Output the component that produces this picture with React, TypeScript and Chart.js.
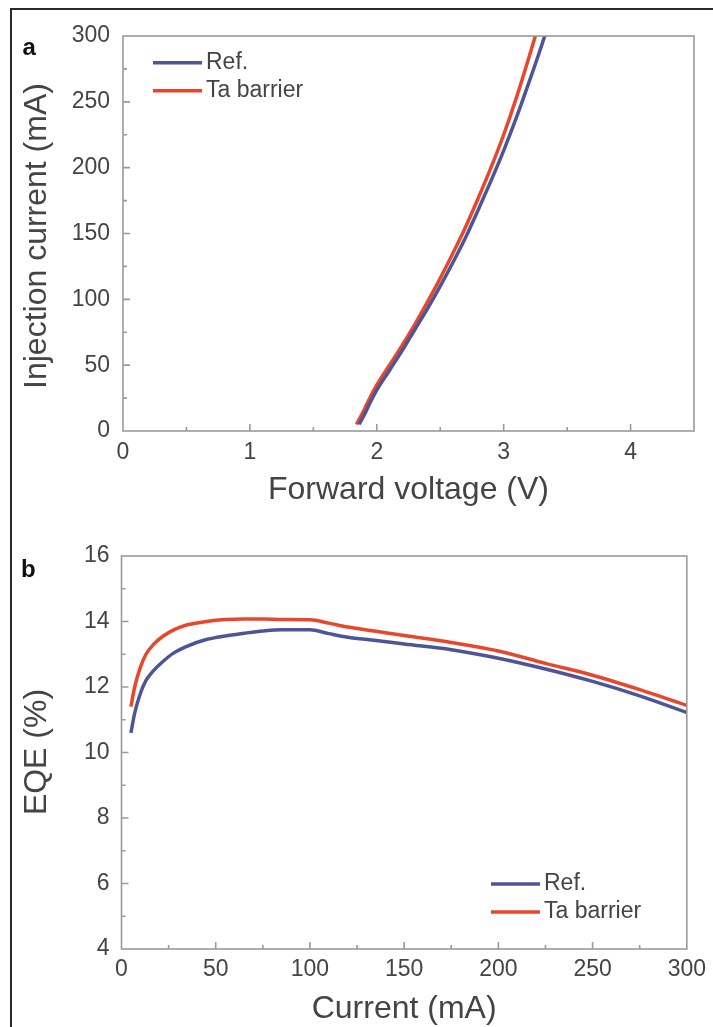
import React, { useEffect, useRef } from "react";
import { Chart, registerables } from "chart.js";

Chart.register(...registerables);

// ---------- Data ----------
const seriesLabels = ["Ref.", "Ta barrier"];
const seriesColors = ["#4d5596", "#e8472c"];

// Panel a: I-V
const ivVoltageRef = [1.86, 1.9, 1.95, 2.0, 2.1, 2.2, 2.3, 2.4, 2.5, 2.6, 2.7, 2.8, 2.9, 3.0, 3.1, 3.2, 3.3, 3.33];
const ivCurrentRef = [5, 12, 22, 31, 46, 61, 77, 93, 110, 128, 147, 168, 190, 213, 238, 265, 293, 302];
const ivVoltageTa = [1.84, 1.9, 1.95, 2.0, 2.1, 2.2, 2.3, 2.4, 2.5, 2.6, 2.7, 2.8, 2.9, 3.0, 3.1, 3.2, 3.25];
const ivCurrentTa = [5, 16, 26, 35, 50, 65, 81, 98, 116, 135, 155, 177, 200, 225, 253, 284, 300];

// Panel b: EQE vs current
const eqeCurrentRef = [5, 7, 10, 13, 17, 22, 28, 35, 45, 55, 65, 75, 85, 100, 110, 120, 135, 150, 175, 200, 225, 250, 275, 300];
const eqeRef = [10.6, 11.2, 11.8, 12.2, 12.5, 12.78, 13.05, 13.25, 13.45, 13.56, 13.64, 13.71, 13.75, 13.75, 13.63, 13.52, 13.42, 13.31, 13.14, 12.88, 12.55, 12.17, 11.73, 11.22];
const eqeCurrentTa = [5, 7, 10, 13, 17, 22, 28, 35, 45, 55, 65, 75, 85, 100, 110, 120, 135, 150, 175, 200, 225, 250, 275, 300];
const eqeTa = [11.4, 12.0, 12.6, 13.0, 13.3, 13.55, 13.75, 13.9, 14.0, 14.06, 14.08, 14.08, 14.06, 14.05, 13.95, 13.83, 13.7, 13.57, 13.36, 13.1, 12.72, 12.36, 11.92, 11.44];

// Axes
const ivXRange = [0, 4.5];
const ivYRange = [0, 300];
const eqeXRange = [0, 300];
const eqeYRange = [4, 16];

// ---------- Styles ----------
const FONT = "'Liberation Sans', Arial, Helvetica, sans-serif";
const AXIS_COLOR = "#9a9a9a";
const TEXT_COLOR = "#444444";

type PanelCfg = {
  letter: string;
  letterX: number;
  letterY: number;
  xTitle: string;
  yTitle: string;
  xTitleY: number;
  yTitleX: number;
  yTitleY: number;
  xMajor: number;
  xMinor: number;
  yMajor: number;
  yMinor: number;
  legendX1: number;
  legendX2: number;
  legendTextX: number;
  legendY: number[];
};

function makePlugin(cfg: PanelCfg) {
  return {
    id: "panelDecor",
    afterDatasetsDraw(chart: any) {
      const ctx = chart.ctx as CanvasRenderingContext2D;
      const a = chart.chartArea;
      const xs = chart.scales.x;
      const ys = chart.scales.y;
      ctx.save();
      // frame
      ctx.strokeStyle = AXIS_COLOR;
      ctx.lineWidth = 1.6;
      ctx.strokeRect(a.left, a.top, a.right - a.left, a.bottom - a.top);
      // ticks (inward)
      ctx.beginPath();
      const isMajor = (v: number, step: number) => Math.abs(v / step - Math.round(v / step)) < 1e-6;
      for (let v = xs.min; v <= xs.max + 1e-9; v += cfg.xMinor) {
        const px = xs.getPixelForValue(v);
        if (px <= a.left + 1 || px >= a.right - 1) continue;
        const len = isMajor(v, cfg.xMajor) ? 7 : 4;
        ctx.moveTo(px, a.bottom);
        ctx.lineTo(px, a.bottom - len);
      }
      for (let v = ys.min; v <= ys.max + 1e-9; v += cfg.yMinor) {
        const py = ys.getPixelForValue(v);
        if (py <= a.top + 1 || py >= a.bottom - 1) continue;
        const len = isMajor(v - ys.min, cfg.yMajor) ? 7 : 4;
        ctx.moveTo(a.left, py);
        ctx.lineTo(a.left + len, py);
      }
      ctx.stroke();

      // legend
      ctx.font = `23px ${FONT}`;
      ctx.textBaseline = "middle";
      ctx.textAlign = "left";
      chart.data.datasets.forEach((ds: any, i: number) => {
        const y = cfg.legendY[i];
        ctx.strokeStyle = ds.borderColor;
        ctx.lineWidth = 3.5;
        ctx.beginPath();
        ctx.moveTo(cfg.legendX1, y);
        ctx.lineTo(cfg.legendX2, y);
        ctx.stroke();
        ctx.fillStyle = TEXT_COLOR;
        ctx.fillText(ds.label, cfg.legendTextX, y);
      });

      // axis titles
      ctx.fillStyle = TEXT_COLOR;
      ctx.font = `32px ${FONT}`;
      ctx.textAlign = "center";
      ctx.textBaseline = "middle";
      ctx.fillText(cfg.xTitle, (a.left + a.right) / 2, cfg.xTitleY);
      ctx.save();
      ctx.translate(cfg.yTitleX, cfg.yTitleY);
      ctx.rotate(-Math.PI / 2);
      ctx.fillText(cfg.yTitle, 0, 0);
      ctx.restore();

      // panel letter
      ctx.fillStyle = "#111";
      ctx.font = `bold 24px ${FONT}`;
      ctx.textAlign = "left";
      ctx.textBaseline = "alphabetic";
      ctx.fillText(cfg.letter, cfg.letterX, cfg.letterY);
      ctx.restore();
    },
  };
}

function buildChart(
  canvas: HTMLCanvasElement,
  xs: number[][],
  ys: number[][],
  xRange: number[],
  yRange: number[],
  xStep: number,
  yStep: number,
  area: { left: number; right: number; top: number; bottom: number; width: number; height: number },
  xTickPad: number,
  yTickPad: number,
  cfg: PanelCfg
) {
  const datasets = xs.map((xv, si) => ({
    label: seriesLabels[si],
    borderColor: seriesColors[si],
    backgroundColor: seriesColors[si],
    data: xv.map((x, i) => ({ x, y: ys[si][i] })),
    borderWidth: 3.5,
    pointRadius: 0,
    cubicInterpolationMode: "monotone" as const,
    fill: false,
  }));
  const tickFont = { size: 23, family: FONT };
  return new Chart(canvas, {
    type: "line",
    data: { datasets },
    options: {
      animation: false,
      responsive: false,
      maintainAspectRatio: false,
      layout: { padding: { left: 0, top: area.top, right: area.width - area.right, bottom: 0 } },
      plugins: { legend: { display: false }, tooltip: { enabled: false } },
      scales: {
        x: {
          type: "linear",
          min: xRange[0],
          max: xRange[1],
          grid: { display: false, drawTicks: false },
          border: { display: false },
          ticks: {
            stepSize: xStep,
            includeBounds: false,
            autoSkip: false,
            maxRotation: 0,
            padding: xTickPad,
            color: TEXT_COLOR,
            font: tickFont,
          },
          afterFit: (s: any) => {
            s.height = area.height - area.bottom;
          },
        },
        y: {
          type: "linear",
          min: yRange[0],
          max: yRange[1],
          grid: { display: false, drawTicks: false },
          border: { display: false },
          ticks: {
            stepSize: yStep,
            includeBounds: false,
            autoSkip: false,
            padding: yTickPad,
            color: TEXT_COLOR,
            font: tickFont,
          },
          afterFit: (s: any) => {
            s.width = area.left;
          },
        },
      },
    },
    plugins: [makePlugin(cfg)],
  });
}

export default function App() {
  const refA = useRef<HTMLCanvasElement>(null);
  const refB = useRef<HTMLCanvasElement>(null);

  useEffect(() => {
    Chart.defaults.font.family = FONT;
    const chartA = buildChart(
      refA.current!,
      [ivVoltageRef, ivVoltageTa],
      [ivCurrentRef, ivCurrentTa],
      ivXRange,
      ivYRange,
      1,
      50,
      { left: 123, right: 694, top: 36, bottom: 431, width: 713, height: 510 },
      8,
      13,
      {
        letter: "a",
        letterX: 22.5,
        letterY: 55,
        xTitle: "Forward voltage (V)",
        yTitle: "Injection current (mA)",
        xTitleY: 490,
        yTitleX: 37,
        yTitleY: 236,
        xMajor: 1,
        xMinor: 0.5,
        yMajor: 50,
        yMinor: 25,
        legendX1: 153,
        legendX2: 202,
        legendTextX: 206,
        legendY: [62.7, 90.7],
      }
    );
    const chartB = buildChart(
      refB.current!,
      [eqeCurrentRef, eqeCurrentTa],
      [eqeRef, eqeTa],
      eqeXRange,
      eqeYRange,
      50,
      2,
      { left: 121.5, right: 692, top: 46, bottom: 439, width: 713, height: 517 },
      7,
      12,
      {
        letter: "b",
        letterX: 21,
        letterY: 67,
        xTitle: "Current (mA)",
        yTitle: "EQE (%)",
        xTitleY: 499,
        yTitleX: 37,
        yTitleY: 242,
        xMajor: 50,
        xMinor: 25,
        yMajor: 2,
        yMinor: 1,
        legendX1: 491,
        legendX2: 540,
        legendTextX: 544,
        legendY: [374, 402],
      }
    );
    return () => {
      chartA.destroy();
      chartB.destroy();
    };
  }, []);

  return (
    <div style={{ position: "absolute", left: 0, top: 0, width: 713, height: 1027, background: "#fff", overflow: "hidden" }}>
      <div
        style={{
          position: "absolute",
          left: 10,
          top: 8,
          width: 713,
          height: 1030,
          borderTop: "2px solid #2a2a2a",
          borderLeft: "2px solid #2a2a2a",
        }}
      />
      <canvas ref={refA} width={713} height={510} style={{ position: "absolute", left: 0, top: 0, width: 713, height: 510 }} />
      <canvas ref={refB} width={713} height={517} style={{ position: "absolute", left: 0, top: 510, width: 713, height: 517 }} />
    </div>
  );
}
